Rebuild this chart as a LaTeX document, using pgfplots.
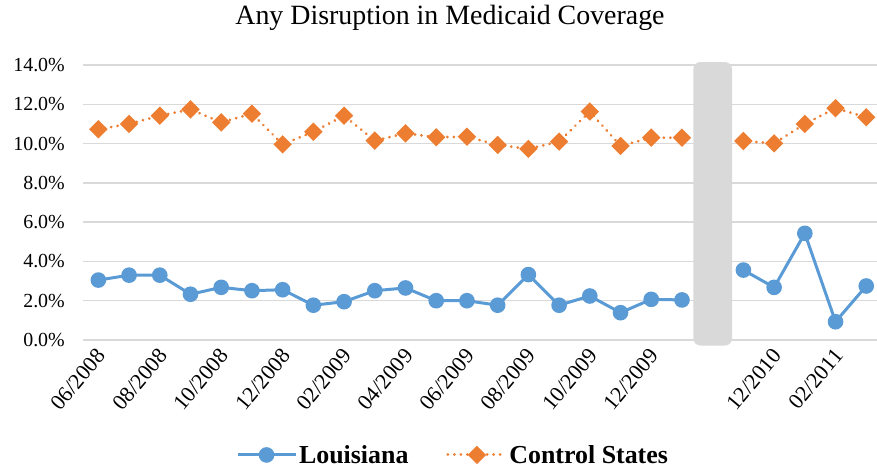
\documentclass[border=0pt]{standalone}
\usepackage{pgfplots}
\pgfplotsset{compat=1.18}
\usepackage{pgfplotstable}
\usepackage{fontspec}
\setmainfont{Liberation Serif}
\definecolor{lablue}{RGB}{91,155,213}
\definecolor{ctorange}{RGB}{237,125,49}
\definecolor{gridgray}{RGB}{217,217,217}

\pgfplotstableread{
x la ct
0 3.05 10.73
1 3.30 11.00
2 3.30 11.42
3 2.33 11.74
4 2.68 11.08
5 2.51 11.52
6 2.56 9.96
7 1.77 10.60
8 1.95 11.42
9 2.51 10.15
10 2.65 10.52
11 2.00 10.32
12 2.00 10.35
13 1.77 9.93
14 3.33 9.73
15 1.77 10.10
16 2.24 11.63
17 1.39 9.88
18 2.07 10.30
19 2.04 10.30
20 nan nan
21 3.56 10.13
22 2.68 10.01
23 5.43 11.00
24 0.93 11.80
25 2.75 11.34
}\datatable

\begin{document}
\begin{tikzpicture}
\useasboundingbox (-83bp,-132bp) rectangle (794bp,340bp);
\begin{axis}[
  at={(0,0)}, anchor=south west,
  scale only axis, width=794bp, height=275bp,
  xmin=-0.5, xmax=25.35, ymin=0, ymax=14,
  clip=false,
  axis line style={draw=none},
  major tick length=0pt,
  ymajorgrids, grid style={gridgray, line width=1.3bp},
  ytick={0,2,...,14},
  yticklabel={\pgfmathprintnumber[fixed,fixed zerofill,precision=1]{\tick}\%},
  yticklabel style={font=\fontsize{20}{22}\selectfont, anchor=east, inner sep=0pt, xshift=-18bp},
  xtick={0,2,4,6,8,10,12,14,16,18,22,24},
  xticklabels={06/2008,08/2008,10/2008,12/2008,02/2009,04/2009,06/2009,08/2009,10/2009,12/2009,12/2010,02/2011},
  xticklabel style={font=\fontsize{22}{24}\selectfont, rotate=50, anchor=east, inner sep=0pt},
  x tick label style={yshift=-10bp, xshift=-7bp},
  /pgf/number format/assume math mode=true,
  unbounded coords=jump,
  legend columns=2,
  legend style={at={(0.466,-0.418)}, anchor=center, draw=none, fill=none,
    font=\bfseries\fontsize{26}{30}\selectfont,
    /tikz/every even column/.append style={column sep=36bp}},
  legend image code/.code={\draw[mark repeat=2,mark phase=2,#1] plot coordinates {(0bp,0bp) (29bp,0bp) (58bp,0bp)};},
]
\fill[gridgray, rounded corners=7bp] (axis cs:19.37,-0.28) rectangle (axis cs:20.63,14.15);
\addplot[lablue, line width=3bp, mark=*, mark size=6.3bp, mark options={solid}] table[x=x, y=la] {\datatable};
\addlegendentry{Louisiana}
\addplot[ctorange, line width=3bp, dash pattern=on 0.01bp off 6.5bp, line cap=round, mark=square*, mark size=5bp, mark options={solid, rotate=45, line cap=butt}] table[x=x, y=ct] {\datatable};
\addlegendentry{Control States}
\end{axis}
\node at (367bp,322bp) {\fontsize{28}{32}\selectfont Any Disruption in Medicaid Coverage};
\end{tikzpicture}
\end{document}
